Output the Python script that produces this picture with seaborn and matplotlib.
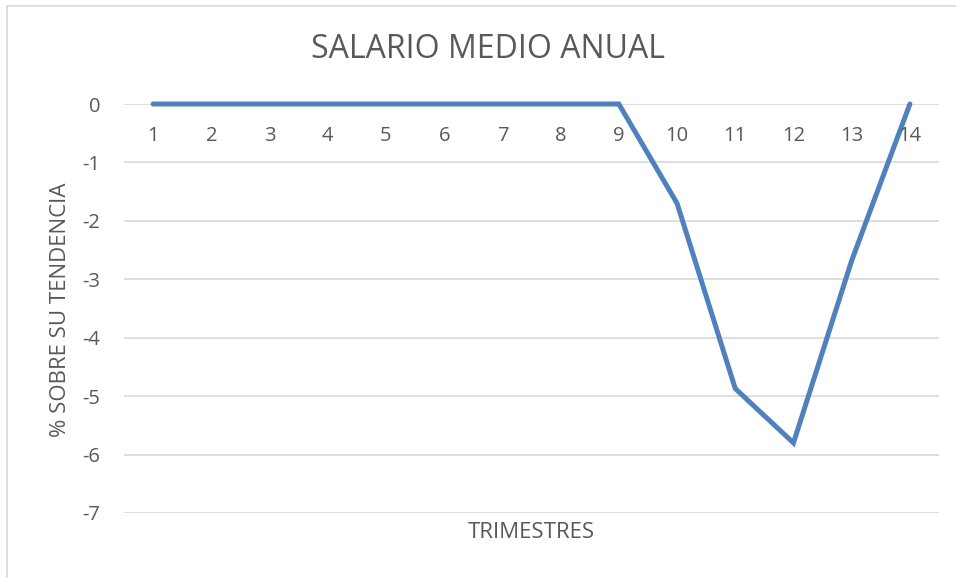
import pandas as pd
import seaborn as sns
import matplotlib.pyplot as plt
from matplotlib.lines import Line2D

# Datos
trimestres = list(range(1, 15))
desviacion = [0, 0, 0, 0, 0, 0, 0, 0, 0, -1.7, -4.87, -5.8, -2.68, 0]
y_ticks = [0, -1, -2, -3, -4, -5, -6, -7]

df = pd.DataFrame({'trimestre': trimestres, 'valor': desviacion})

sns.set_style('white')
plt.rcParams['font.family'] = ['Open Sans', 'DejaVu Sans']
gris = '#595959'

fig = plt.figure(figsize=(9.56, 5.78), dpi=100)
ax = fig.add_axes([124 / 956, 1 - 513 / 578, 815 / 956, 409 / 578])

sns.lineplot(data=df, x='trimestre', y='valor', ax=ax, color='#4F81BD',
             linewidth=3.6, solid_joinstyle='miter', clip_on=False, zorder=3)

ax.set_xlim(0.5, 14.5)
ax.set_ylim(-7, 0)
ax.set_yticks(y_ticks)
ax.set_yticklabels([str(v) for v in y_ticks])
ax.yaxis.grid(True, color='#d9d9d9', linewidth=1.2)
ax.set_axisbelow(True)
for s in ax.spines.values():
    s.set_visible(False)
ax.tick_params(axis='y', length=0, pad=17, labelsize=14.5, labelcolor=gris)
ax.set_xticks([])
ax.set_xlabel('')
ax.set_ylabel('')

# etiquetas de categoria justo debajo del eje en 0
for t in trimestres:
    ax.annotate(str(t), xy=(t, 0), xytext=(0, -23), textcoords='offset points',
                ha='center', va='center', fontsize=14.5, color=gris)

fig.text(488 / 956, 1 - 50 / 578, 'SALARIO MEDIO ANUAL', ha='center', va='center',
         fontsize=23, color=gris)
fig.text(60 / 956, 1 - 310 / 578, '% SOBRE SU TENDENCIA', ha='center', va='center',
         rotation=90, fontsize=16, color=gris)
fig.text(531 / 956, 1 - 533 / 578, 'TRIMESTRES', ha='center', va='center',
         fontsize=16, color=gris)

# borde del area del grafico (arriba e izquierda)
fig.add_artist(Line2D([7 / 956, 1], [1 - 6 / 578, 1 - 6 / 578], color='#d9d9d9', linewidth=1.2))
fig.add_artist(Line2D([7 / 956, 7 / 956], [0, 1 - 6 / 578], color='#d9d9d9', linewidth=1.2))

fig.savefig('out.png', dpi=100)
